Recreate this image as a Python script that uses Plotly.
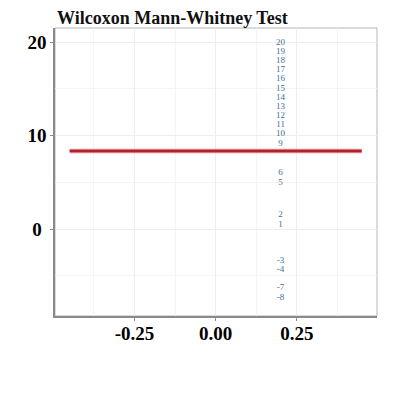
import plotly.graph_objs as go

# rank labels and where they sit on the y axis
rank_labels = ["20", "19", "18", "17", "16", "15", "14", "13", "12", "11", "10", "9",
               "6", "5", "2", "1", "-3", "-4", "-7", "-8"]
rank_y = [19.95, 18.97, 17.99, 17.01, 16.03, 15.05, 14.07, 13.09, 12.11, 11.13, 10.15, 9.17,
          6.0, 5.0, 1.5, 0.5, -3.4, -4.4, -6.3, -7.3]
rank_x = [0.2] * len(rank_labels)

# horizontal reference line (test statistic)
stat_x = [-0.45, 0.45]
stat_y = [8.35, 8.35]

x_ticks = [-0.25, 0.0, 0.25]
x_ticktext = ["-0.25", "0.00", "0.25"]
y_ticks = [0, 10, 20]
y_ticktext = ["0\u00a0", "10", "20"]  # nbsp keeps the 0 roughly centred

SERIF = "Liberation Serif"
# the page body adds an 8px offset, so the figure is laid out 8px up/left
OFF = 8

fig = go.Figure()

# faint glow under the red line
fig.add_trace(go.Scatter(x=stat_x, y=stat_y, mode="lines",
                         line=dict(color="rgba(240,110,110,0.35)", width=5),
                         hoverinfo="skip", showlegend=False))
fig.add_trace(go.Scatter(x=stat_x, y=stat_y, mode="lines",
                         line=dict(color="#b5212b", width=3),
                         showlegend=False))

fig.add_trace(go.Scatter(x=rank_x, y=rank_y, mode="text", text=rank_labels,
                         textposition="middle center",
                         textfont=dict(family=SERIF, size=9, color="#3f6f96"),
                         showlegend=False))

axis_common = dict(
    showgrid=True, gridcolor="#ededed", gridwidth=1,
    zeroline=False, showline=True, linecolor="#8a8a8a", linewidth=1.5,
    ticks="outside", ticklen=3, tickcolor="#8a8a8a",
    tickfont=dict(family=SERIF, size=19, color="black", weight="bold"),
    automargin=False,
)

fig.update_layout(
    width=400, height=400,
    margin=dict(l=55 - OFF, r=23 + OFF, t=28 - OFF, b=84 + OFF),
    paper_bgcolor="white",
    plot_bgcolor="white",
    title=dict(text="<b>Wilcoxon Mann-Whitney Test</b>",
               x=(57 - OFF) / 400, xanchor="left", xref="container",
               y=1 - 10 / 400, yanchor="middle", yref="container",
               font=dict(family=SERIF, size=18, color="#111111")),
    xaxis=dict(range=[-0.495, 0.497], tickvals=x_ticks, ticktext=x_ticktext,
               minor=dict(dtick=0.125, tick0=0.125, showgrid=True, gridcolor="#f4f4f4"),
               ticklabelstandoff=-4,
               **axis_common),
    yaxis=dict(range=[-9.3, 21.5], tickvals=y_ticks, ticktext=y_ticktext,
               minor=dict(dtick=10, tick0=5, showgrid=True, gridcolor="#f4f4f4"),
               **axis_common),
)

# lighter frame on top and right
fig.add_shape(type="rect", xref="paper", yref="paper", x0=0, y0=0, x1=1, y1=1,
              line=dict(color="#b5b5b5", width=1), layer="below")

fig.write_html("out.html")
